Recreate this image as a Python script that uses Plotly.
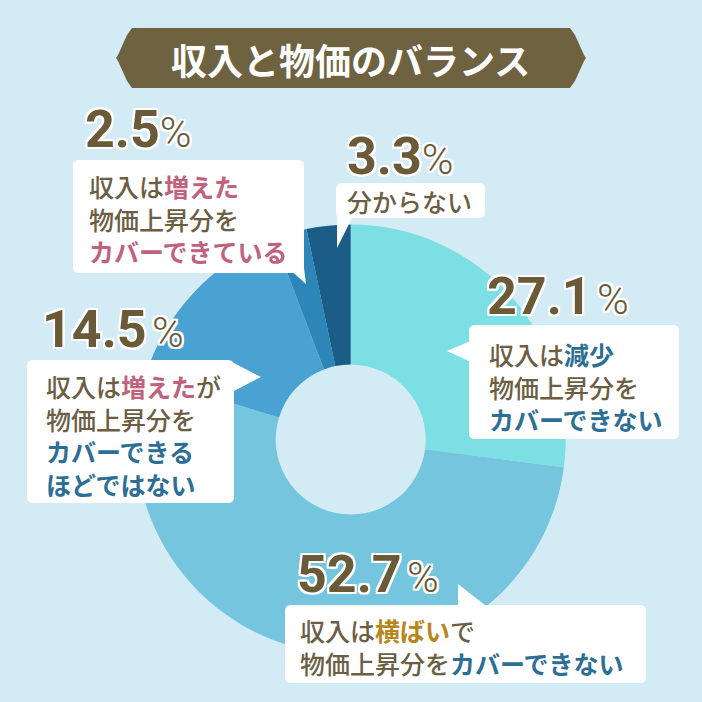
import plotly.graph_objects as go

W = H = 702

# ---- data ----
categories = ["収入は減少 物価上昇分をカバーできない",
              "収入は横ばいで物価上昇分をカバーできない",
              "収入は増えたが物価上昇分をカバーできるほどではない",
              "収入は増えた物価上昇分をカバーできている",
              "分からない"]
values = [27.1, 52.7, 14.5, 2.5, 3.3]
value_labels = ["27.1", "52.7", "14.5", "2.5", "3.3"]
colors = ["#7BDFE4", "#74C5DD", "#4AA2D3", "#2D86B8", "#1B5D86"]

BG = "#D3EBF5"
BROWN = "#6B5E42"
NUM = "#6A5A37"
PINK = "#C0627C"
BLUE = "#2D6E95"
GOLD = "#B8861A"


def X(x):
    return x / W


def Y(y):
    return 1 - y / H


def rrect(x0, y0, x1, y1, r):
    p = [
        f"M {X(x0 + r)},{Y(y0)}", f"L {X(x1 - r)},{Y(y0)}",
        f"Q {X(x1)},{Y(y0)} {X(x1)},{Y(y0 + r)}", f"L {X(x1)},{Y(y1 - r)}",
        f"Q {X(x1)},{Y(y1)} {X(x1 - r)},{Y(y1)}", f"L {X(x0 + r)},{Y(y1)}",
        f"Q {X(x0)},{Y(y1)} {X(x0)},{Y(y1 - r)}", f"L {X(x0)},{Y(y0 + r)}",
        f"Q {X(x0)},{Y(y0)} {X(x0 + r)},{Y(y0)}", "Z"]
    return " ".join(p)


def poly(pts):
    s = f"M {X(pts[0][0])},{Y(pts[0][1])} "
    s += " ".join(f"L {X(a)},{Y(b)}" for a, b in pts[1:])
    return s + " Z"


# pie geometry (pixels)
cx, cy, R = 350.7, 439.5, 215
fig = go.Figure(go.Pie(
    labels=categories, values=values, sort=False, direction="clockwise",
    rotation=0, hole=75 / 215, textinfo="none", hoverinfo="label+value",
    marker=dict(colors=colors, line=dict(width=0)), showlegend=False,
    domain=dict(x=[X(cx - R), X(cx + R)], y=[Y(cy + R), Y(cy - R)]),
))

shapes = []
white = dict(type="path", xref="paper", yref="paper", fillcolor="white",
             line=dict(width=0), layer="above")

# title banner
bpts = [(140, 28), (562, 28), (570, 28), (575, 35), (584, 55), (586, 58),
        (584, 61), (575, 81), (570, 88), (562, 88), (140, 88), (132, 88),
        (127, 81), (118, 61), (116, 58), (118, 55), (127, 35), (132, 28)]
shapes.append(dict(type="path", xref="paper", yref="paper", layer="above",
                   fillcolor="#6E6240", line=dict(width=0),
                   path=poly(bpts)))

# callout boxes
boxes = [
    (73, 160, 304, 273, [(288, 268), (304, 268), (306, 284)]),          # 2.5
    (336, 183, 485, 218, [(337, 214), (354, 214), (337, 248)]),         # 3.3
    (469, 325, 679, 439, [(473, 340), (447, 351), (473, 363)]),         # 27.1
    (27, 360, 234, 503, [(230, 361), (261, 377), (230, 393)]),          # 14.5
    (285, 605, 646, 683, [(458, 609), (458, 584), (490, 609)]),         # 52.7
]
for x0, y0, x1, y1, tri in boxes:
    shapes.append(dict(white, path=rrect(x0, y0, x1, y1, 6)))
    shapes.append(dict(white, path=poly(tri)))

ann = []
ann.append(dict(x=X(350), y=Y(59), xref="paper", yref="paper",
                text="<b>収入と物価のバランス</b>", showarrow=False,
                xanchor="center", yanchor="middle",
                font=dict(family="Noto Sans CJK JP", size=36, color="white")))


def c(t, col):
    return f"<span style='color:{col}'><b>{t}</b></span>"


texts = [
    (87, 218, "収入は" + c("増えた", PINK) + "<br>物価上昇分を<br>" + c("カバーできている", PINK)),
    (345, 201, "分からない"),
    (487, 386, "収入は" + c("減少", BLUE) + "<br>物価上昇分を<br>" + c("カバーできない", BLUE)),
    (44, 435, "収入は" + c("増えた", PINK) + "が<br>物価上昇分を<br>" + c("カバーできる", BLUE) + "<br>" + c("ほどではない", BLUE)),
    (298, 646, "収入は" + c("横ばい", GOLD) + "で<br>物価上昇分を" + c("カバーできない", BLUE)),
]
for x, y, t in texts:
    ann.append(dict(x=X(x), y=Y(y), xref="paper", yref="paper", text=t,
                    showarrow=False, xanchor="left", yanchor="middle",
                    align="left",
                    font=dict(family="Noto Sans CJK JP", size=25, color=BROWN,
                              weight=500)))

outline = ", ".join(f"{a}px {b}px 0 #ffffff" for a, b in
                    [(2, 0), (-2, 0), (0, 2), (0, -2), (2, 2), (-2, -2), (2, -2), (-2, 2)])

# percentage labels: (index into values, x, y, gap before %)
num_pos = [(3, 83, 130, ""), (4, 345, 156, ""), (0, 485, 296, "\u200a"),
           (2, 40, 329, "\u200a"), (1, 295, 574, "\u200a")]
for i, x, y, gap in num_pos:
    t = (value_labels[i] + gap +
         "<span style='font-size:43px;font-weight:300'>%</span>")
    ann.append(dict(x=X(x), y=Y(y), xref="paper", yref="paper", text=t,
                    showarrow=False, xanchor="left", yanchor="middle",
                    font=dict(family="Roboto", size=52, color=NUM,
                              weight=700, shadow=outline)))

fig.update_layout(width=W, height=H, autosize=False,
                  margin=dict(l=0, r=0, t=0, b=0),
                  paper_bgcolor=BG, plot_bgcolor=BG,
                  shapes=shapes, annotations=ann)
fig.write_html("out.html", config={"displayModeBar": False},
               post_script="document.body.style.margin='0';document.body.style.background='%s';" % BG)
